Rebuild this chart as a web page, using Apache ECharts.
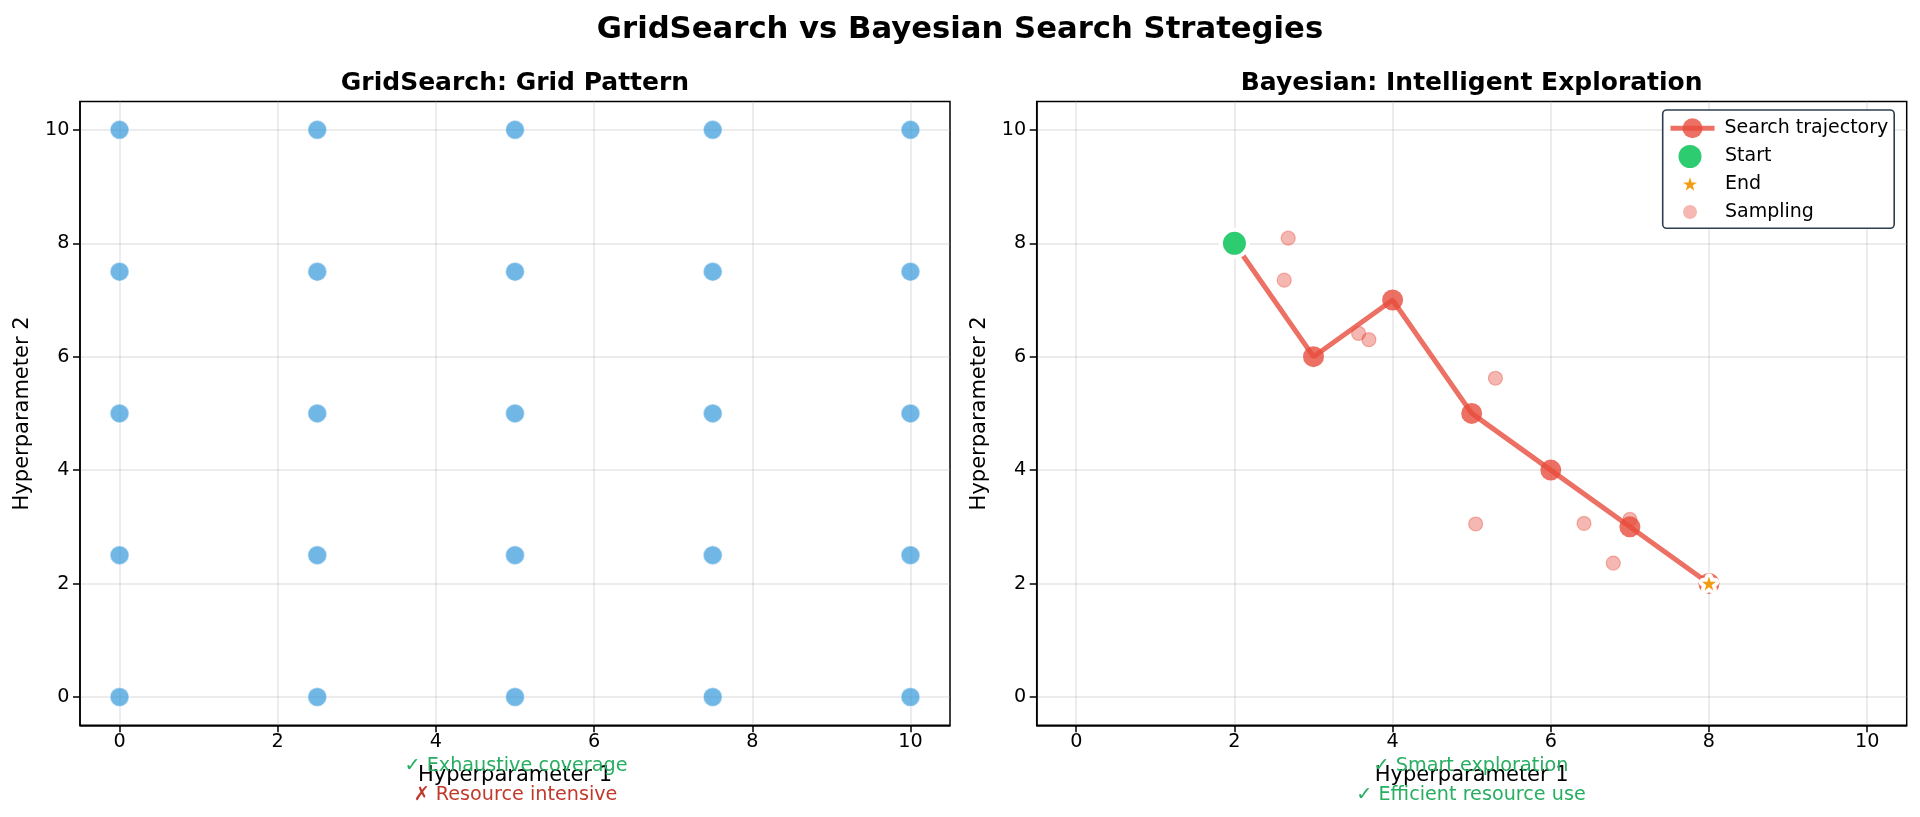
<!DOCTYPE html>
<html>
<head>
<meta charset="utf-8">
<style>html,body{margin:0;padding:0;background:#fff}#c{width:1920px;height:817px}</style>
<script src="https://cdn.jsdelivr.net/npm/echarts@6/dist/echarts.min.js"></script>
</head>
<body>
<div id="c"></div>
<script>
const FONT = '"DejaVu Sans"';
const tickValues = [0, 2, 4, 6, 8, 10];
const gridLevels = [0, 2.5, 5, 7.5, 10];
const gridPoints = gridLevels.flatMap(x => gridLevels.map(y => [x, y]));
const trajectory = [[2, 8], [3, 6], [4, 7], [5, 5], [6, 4], [7, 3], [8, 2]];
const startPoint = [[2, 8]];
const endPoint = [[8, 2]];
const samples = [[2.68, 8.09], [2.63, 7.35], [3.57, 6.41], [3.70, 6.30], [5.30, 5.62], [5.05, 3.05], [6.42, 3.06], [7.0, 3.13], [6.79, 2.36]];
const mainTitle = 'GridSearch vs Bayesian Search Strategies';
const panelTitles = ['GridSearch: Grid Pattern', 'Bayesian: Intelligent Exploration'];
const xName = 'Hyperparameter 1';
const yName = 'Hyperparameter 2';

const STAR = 'path://M50 0 L61.8 36.3 L100 36.3 L69.1 58.8 L80.9 95.1 L50 72.6 L19.1 95.1 L30.9 58.8 L0 36.3 L38.2 36.3 Z';

const G = [{left: 80, top: 101.5, width: 870, height: 623.8}, {left: 1036.7, top: 101.5, width: 870, height: 623.8}];

function axisCommon(i, margin) {
  return {
    type: 'value', gridIndex: i, min: -0.5, max: 10.5,
    nameLocation: 'middle',
    nameTextStyle: {color: '#000', fontSize: 21, fontFamily: FONT},
    axisLine: {show: true, onZero: false, lineStyle: {color: '#000', width: 1.5}},
    axisTick: {show: true, length: 7, lineStyle: {color: '#000', width: 1.5}, customValues: tickValues},
    axisLabel: {color: '#000', fontSize: 19.2, fontFamily: FONT, margin: margin, customValues: tickValues, formatter: v => String(v)},
    splitLine: {show: true, lineStyle: {color: 'rgba(176,176,176,0.32)', width: 1.5}}
  };
}
function xA(i) { return Object.assign(axisCommon(i, 7), {name: xName, nameGap: 40}); }
function yA(i) { return Object.assign(axisCommon(i, 10.5), {name: yName, nameGap: 46.5, nameRotate: 90}); }
function legendEntry(name, iconH, top, iconW, textPad) {
  return {
    data: [name], orient: 'vertical', left: 1668 + (44 - iconW) / 2, top: top,
    padding: 0, itemWidth: iconW, itemHeight: iconH, itemGap: 0, selectedMode: false,
    itemStyle: {borderWidth: 0},
    lineStyle: {width: 5},
    textStyle: {color: '#000', fontSize: 19, fontFamily: FONT, padding: [0, 0, 0, textPad + (44 - iconW) / 2]},
    z: 6
  };
}

const option = {
  animation: false,
  backgroundColor: '#fff',
  title: [
    {text: mainTitle, left: 960, top: 15, padding: 0, textAlign: 'center', textStyle: {fontFamily: FONT, fontWeight: 'bold', fontSize: 30.7, color: '#000'}},
    {text: panelTitles[0], left: 515, top: 71, padding: 0, textAlign: 'center', textStyle: {fontFamily: FONT, fontWeight: 'bold', fontSize: 25, color: '#000'}},
    {text: panelTitles[1], left: 1471.7, top: 71, padding: 0, textAlign: 'center', textStyle: {fontFamily: FONT, fontWeight: 'bold', fontSize: 25, color: '#000'}}
  ],
  grid: G.map(g => Object.assign({show: true, borderColor: '#000', borderWidth: 1.5, backgroundColor: 'transparent', containLabel: false}, g)),
  xAxis: [xA(0), xA(1)],
  yAxis: [yA(0), yA(1)],
  legend: [
    legendEntry('Search trajectory', 25, 118.2, 44, 5),
    legendEntry('Start', 23, 145, 23, 8),
    legendEntry('End', 14, 174.5, 14, 8),
    legendEntry('Sampling', 14, 202.5, 14, 8)
  ],
  series: [
    {name: 'Grid', type: 'scatter', xAxisIndex: 0, yAxisIndex: 0, data: gridPoints, symbolSize: 19,
     itemStyle: {color: '#3498db', opacity: 0.7, borderColor: 'rgba(255,255,255,0.6)', borderWidth: 1.5}, z: 3},
    {name: 'Sampling', type: 'scatter', xAxisIndex: 1, yAxisIndex: 1, data: samples, symbolSize: 14,
     itemStyle: {color: 'rgba(231,76,60,0.4)', borderColor: 'rgba(231,76,60,0.4)', borderWidth: 1.2, opacity: 1}, z: 2},
    {name: 'Search trajectory', type: 'line', xAxisIndex: 1, yAxisIndex: 1, data: trajectory, symbol: 'circle', symbolSize: 21,
     lineStyle: {color: '#e74c3c', width: 5, opacity: 0.8}, itemStyle: {color: '#e74c3c', opacity: 0.8}, z: 3},
    {name: 'Start', type: 'scatter', xAxisIndex: 1, yAxisIndex: 1, data: startPoint, symbolSize: 27,
     itemStyle: {color: '#2ecc71', borderColor: '#fff', borderWidth: 4, opacity: 1}, z: 5},
    {name: 'EndHalo', type: 'scatter', xAxisIndex: 1, yAxisIndex: 1, data: endPoint, symbol: STAR, symbolSize: 12,
     itemStyle: {color: '#fff', borderColor: '#fff', borderWidth: 8.5, borderJoin: 'round', opacity: 1}, z: 5},
    {name: 'End', type: 'scatter', xAxisIndex: 1, yAxisIndex: 1, data: endPoint, symbol: STAR, symbolSize: 14,
     itemStyle: {color: '#f39c12', opacity: 1}, z: 6}
  ],
  graphic: [
    {type: 'rect', shape: {x: 1662.7, y: 110, width: 231.5, height: 118.3, r: 4}, z: 5,
     style: {fill: 'rgba(255,255,255,0.95)', stroke: '#2c3e50', lineWidth: 1.6}},
    {type: 'text', x: 516, y: 766, z: 7, style: {text: '✓ Exhaustive coverage', fill: '#27ae60', font: '19.2px ' + FONT, align: 'center', verticalAlign: 'middle'}},
    {type: 'text', x: 515.5, y: 795, z: 7, style: {text: '✗ Resource intensive', fill: '#c0392b', font: '19.2px ' + FONT, align: 'center', verticalAlign: 'middle'}},
    {type: 'text', x: 1471, y: 766, z: 7, style: {text: '✓ Smart exploration', fill: '#27ae60', font: '19.2px ' + FONT, align: 'center', verticalAlign: 'middle'}},
    {type: 'text', x: 1471, y: 795, z: 7, style: {text: '✓ Efficient resource use', fill: '#27ae60', font: '19.2px ' + FONT, align: 'center', verticalAlign: 'middle'}}
  ]
};
const chart = echarts.init(document.getElementById('c'));
chart.setOption(option);
</script>
</body>
</html>
